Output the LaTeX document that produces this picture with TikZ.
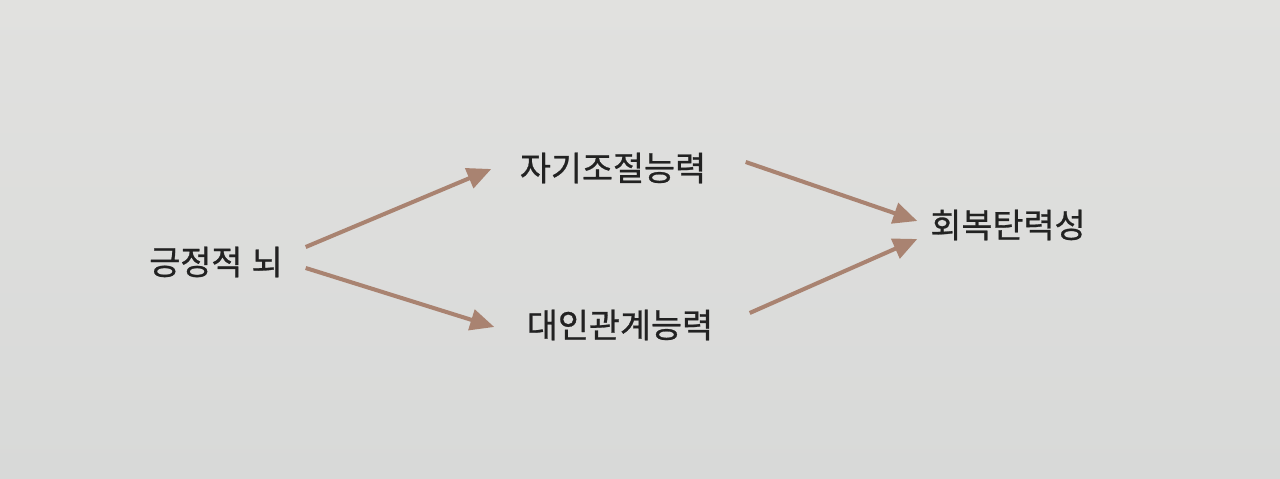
\documentclass[tikz,border=0pt]{standalone}
\usepackage{fontspec}
\newfontfamily\kr[FakeBold=0.8]{Noto Sans CJK KR}
\usetikzlibrary{arrows.meta}

\definecolor{pagegray}{HTML}{D8D9D8}
\definecolor{pagelight}{HTML}{E1E1DF}
\definecolor{arrowbrown}{HTML}{A98371}
\definecolor{inkgray}{HTML}{222222}

\begin{document}
\begin{tikzpicture}[x=0.1mm, y=-0.1mm,
    factor/.style = {rectangle, inner sep=0pt, minimum height=4mm, text=inkgray,
                     font=\kr\fontsize{9.6pt}{11pt}\selectfont},
    link/.style = {draw=arrowbrown, line width=1.15pt,
                   -{Triangle[length=2.4mm, width=2.1mm]}}]
  % Page.
  \shade [top color=pagelight, bottom color=pagegray] (0, 0) rectangle (1280, 479);
  \useasboundingbox (0, 0) rectangle (1280, 479);

  % Factors.
  \node at (216, 262) [factor, minimum width=17.8mm, name=Brain] {긍정적\hspace{0.05em} 뇌};
  \node at (613, 168) [factor, minimum width=24.2mm, name=SelfControl] {자기조절능력};
  \node at (620, 325) [factor, minimum width=25mm, name=Relations] {대인관계능력};
  \node at (1008, 225) [factor, minimum width=18mm, name=Resilience] {회복탄력성};

  % Paths from the brain.
  \draw [link] ([yshift=1.5mm]Brain.east)
               to ([yshift=-0.1mm]SelfControl.west);
  \draw [link] ([yshift=-0.6mm]Brain.east)
               to ([yshift=-0.2mm]Relations.west);

  % Paths to resilience.
  \draw [link] ([xshift=1.1mm, yshift=0.6mm]SelfControl.east)
               to ([yshift=0.4mm]Resilience.west);
  \draw [link] ([xshift=0.4mm, yshift=1.2mm]Relations.east)
               to ([yshift=-1.4mm]Resilience.west);
\end{tikzpicture}
\end{document}
